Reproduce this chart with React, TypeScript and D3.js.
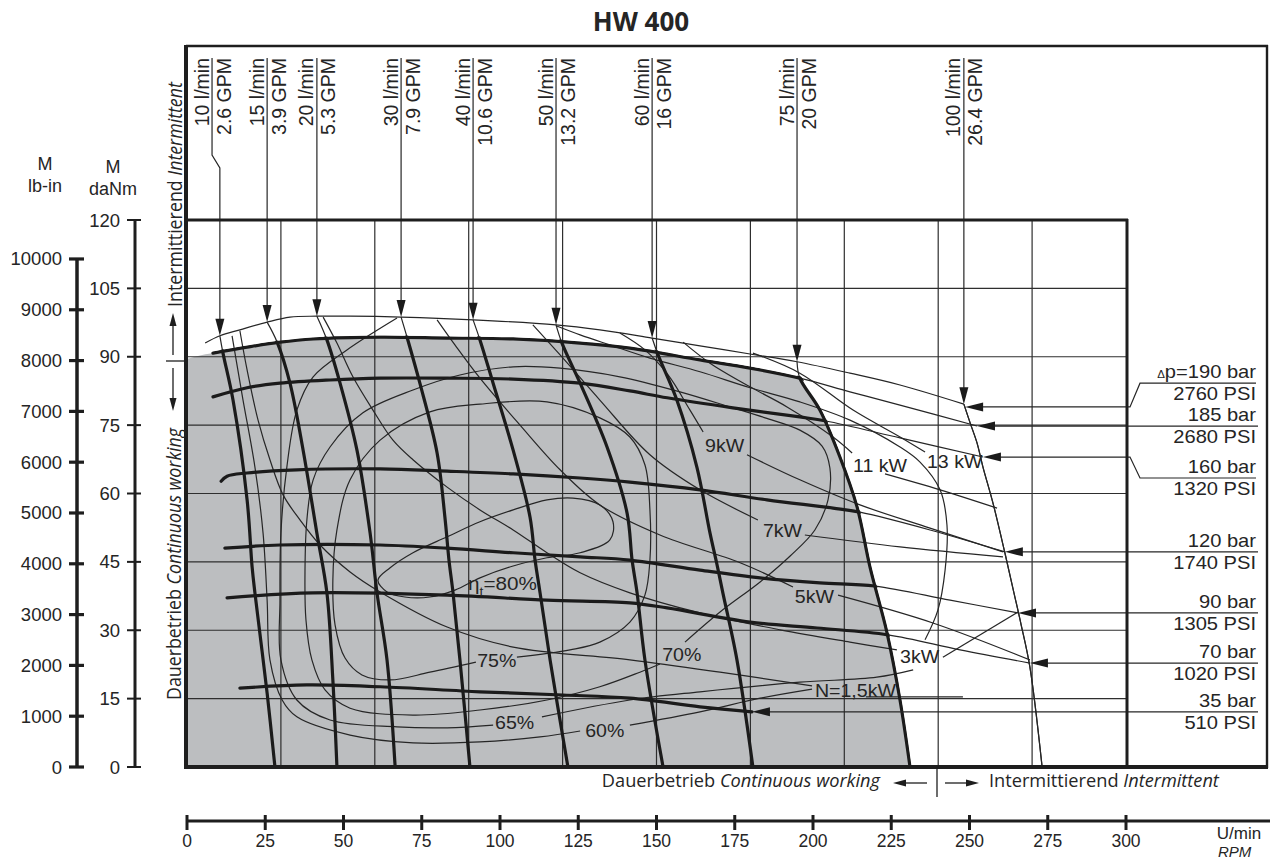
import React from "react";
import * as d3 from "d3";

type Pt = [number, number];

// ---------- axes ----------
const rpmTicks = [0, 25, 50, 75, 100, 125, 150, 175, 200, 225, 250, 275, 300];
const torqueTicks = [0, 15, 30, 45, 60, 75, 90, 105, 120];
const lbinTicks = [0, 1000, 2000, 3000, 4000, 5000, 6000, 7000, 8000, 9000, 10000];
const gridRpm = [30, 60, 90, 120, 150, 180, 210, 240, 270];
const gridTorque = [15, 30, 45, 60, 75, 90, 105];

// ---------- flow lines (rpm, daNm), from the upper arrow down to zero torque ----------
const flowLmin = ["10 l/min", "15 l/min", "20 l/min", "30 l/min", "40 l/min", "50 l/min", "60 l/min", "75 l/min", "100 l/min"];
const flowGpm = ["2.6 GPM", "3.9 GPM", "5.3 GPM", "7.9 GPM", "10.6 GPM", "13.2 GPM", "16 GPM", "20 GPM", "26.4 GPM"];
const flowLeaderRpm = [8.0, 25.6, 41.5, 68.4, 91.4, 117.9, 148.6, 194.9, 248.2];

const q10: Pt[] = [[10.5, 94.6], [11.5, 90.8], [14.7, 80.5], [19.2, 58.6], [20.8, 43.9], [21.7, 38.2], [25.6, 16.2], [28.1, 0]];
const q15: Pt[] = [[25.6, 97.6], [28.8, 93.2], [32.9, 84.2], [37.1, 69.5], [41.5, 51.3], [44.7, 38.2], [46.6, 19.1], [47.9, 0]];
const q20: Pt[] = [[41.5, 98.9], [44.7, 93.7], [48.9, 84.2], [54.3, 69.5], [58.5, 51.3], [60.7, 38.2], [63.9, 23.5], [66.5, 0]];
const q30: Pt[] = [[68.4, 98.7], [70.3, 94.3], [74.4, 84.2], [79.9, 68.9], [82.4, 54.8], [83.7, 45.4], [85.0, 38.2], [87.2, 23.5], [90.4, 0]];
const q40: Pt[] = [[91.4, 98.1], [93.6, 93.7], [97.8, 84.2], [104.2, 69.5], [109.6, 54.8], [111.2, 45.4], [112.8, 38.2], [116.0, 23.5], [121.7, 0]];
const q50: Pt[] = [[117.9, 97.0], [119.8, 93.0], [125.6, 84.2], [134.2, 70.2], [140.6, 55.7], [142.2, 45.4], [143.8, 38.2], [146.3, 23.5], [152.1, 0]];
const q60: Pt[] = [[148.6, 94.1], [150.5, 90.4], [156.5, 80.5], [162.9, 65.8], [167.1, 51.3], [169.2, 44.8], [171.2, 38.2], [175.7, 23.5], [180.8, 0]];
const q75: Pt[] = [[194.9, 88.9], [195.8, 85.3], [202.2, 78.3], [208.6, 68.0], [214.1, 57.0], [218.2, 43.9], [223.6, 29.6], [227.8, 14.7], [231.0, 0]];
const q100: Pt[] = [[248.2, 79.6], [250.2, 75.5], [252.4, 71.1], [254.3, 65.8], [257.5, 57.9], [261.3, 47.0], [264.2, 38.2], [266.5, 31.2], [269.3, 21.9], [273.2, 0]];

// upper limit (190 bar)
const env190: Pt[] = [[5.8, 93.0], [10.5, 94.6], [16.9, 95.9], [25.6, 97.6], [32.9, 98.7], [41.5, 98.9], [52.1, 98.9], [68.4, 98.7], [91.4, 98.1], [117.9, 97.0], [131.9, 95.9], [148.6, 94.1], [163.9, 92.4], [179.9, 90.6], [194.9, 88.9], [211.8, 86.4], [227.8, 83.8], [248.2, 79.6]];

// ---------- pressure lines ----------
const p185: Pt[] = [[8.3, 90.8], [19.2, 92.1], [29.7, 93.2], [40.3, 93.9], [61.7, 94.3], [83.1, 94.1], [104.2, 93.9], [125.6, 93.0], [141.5, 91.9], [163.9, 89.3], [179.9, 87.5], [195.8, 85.3], [211.8, 82.3], [227.8, 79.4], [252.4, 74.8]];
const p160: Pt[] = [[8.3, 81.2], [19.2, 83.2], [29.7, 84.2], [45.7, 84.9], [61.7, 85.3], [83.1, 85.3], [104.2, 85.1], [125.6, 84.2], [141.5, 82.5], [153.4, 81.0], [174.4, 78.8], [195.8, 76.8], [204.2, 75.9], [227.8, 72.2], [254.3, 68.0]];
const p120: Pt[] = [[10.9, 62.7], [12.8, 63.8], [19.2, 64.5], [35.1, 65.2], [61.7, 65.4], [83.1, 64.9], [104.2, 64.3], [125.6, 63.4], [141.5, 62.5], [163.9, 60.8], [185.3, 58.6], [206.4, 56.8], [215.0, 55.9], [237.4, 52.0], [261.3, 47.2]];
const p90: Pt[] = [[12.1, 48.0], [29.7, 48.7], [61.7, 48.7], [83.1, 48.0], [104.2, 47.0], [125.6, 46.1], [141.5, 45.4], [163.9, 43.2], [183.1, 41.5], [202.2, 40.4], [219.8, 39.7], [243.8, 36.6], [265.5, 33.8]];
const p70: Pt[] = [[12.8, 37.1], [40.3, 38.2], [83.1, 37.7], [115.0, 36.6], [141.5, 36.0], [153.4, 34.9], [179.9, 31.8], [201.3, 30.5], [224.0, 29.0], [247.0, 25.7], [269.3, 22.8]];
const p35: Pt[] = [[16.9, 17.3], [38.3, 18.0], [61.7, 17.6], [93.6, 16.5], [120.1, 15.8], [141.5, 15.1], [163.9, 13.2], [180.5, 12.1]];

const pressBar = ["190 bar", "185 bar", "160 bar", "120 bar", "90 bar", "70 bar", "35 bar"];
const pressPsi = ["2760 PSI", "2680 PSI", "1320 PSI", "1740 PSI", "1305 PSI", "1020 PSI", "510 PSI"];
const pressTips: Pt[] = [[248.6, 79.0], [252.4, 74.8], [254.3, 68.0], [261.3, 47.2], [265.5, 33.8], [269.3, 22.8], [180.5, 12.1]];
const pressRuleTorque = [84.2, 74.8, 63.4, 47.2, 33.8, 22.8, 12.1];

// ---------- power lines ----------
const kw15a: Pt[] = [[16.9, 95.7], [19.2, 87.1], [22.7, 76.1], [26.5, 67.4], [30.7, 59.7], [36.1, 54.2], [42.5, 48.7], [52.1, 42.8], [61.7, 38.4], [83.1, 30.7], [104.2, 26.3], [141.5, 23.5], [170.3, 20.8], [199.7, 17.8]];
const kw15b: Pt[] = [[216.9, 15.4], [247.9, 15.4]];
const kw3a: Pt[] = [[43.5, 98.7], [47.9, 93.0], [53.0, 85.6], [59.4, 78.3], [65.8, 71.7], [72.2, 67.4], [83.1, 61.4], [93.6, 56.4], [104.2, 52.0], [115.0, 47.0], [125.6, 42.6], [141.5, 38.2], [163.9, 33.8], [189.5, 30.1], [211.8, 27.4], [226.8, 25.7]];
const kw3b: Pt[] = [[241.5, 24.1], [265.5, 34.0]];
const kw5a: Pt[] = [[79.9, 98.1], [85.6, 92.6], [93.6, 85.3], [106.4, 75.0], [119.2, 65.2], [131.9, 57.5], [151.1, 50.9], [176.7, 44.8], [193.6, 39.5]];
const kw5b: Pt[] = [[208.0, 37.7], [238.3, 31.6], [269.3, 23.5]];
const kw7a: Pt[] = [[110.5, 97.0], [119.2, 90.4], [131.9, 80.5], [147.9, 68.5], [163.9, 60.8], [182.4, 54.2]];
const kw7b: Pt[] = [[197.4, 50.9], [227.8, 48.3], [260.7, 46.1]];
const kw9a: Pt[] = [[138.3, 95.2], [146.3, 91.5], [153.7, 86.0], [160.7, 78.3], [164.9, 73.5]];
const kw9b: Pt[] = [[178.9, 68.5], [195.8, 63.0], [215.0, 57.5], [237.4, 52.4], [260.7, 47.2]];
const kw11a: Pt[] = [[158.5, 93.2], [167.1, 88.6], [179.9, 83.4], [191.7, 79.0], [206.4, 72.4], [212.5, 68.9]];
const kw11b: Pt[] = [[223.0, 64.3], [240.6, 60.8], [258.8, 56.8]];
const kw13: Pt[] = [[180.8, 90.8], [195.8, 86.4], [212.8, 78.3], [227.8, 72.4], [235.8, 69.1]];

// ---------- efficiency contours ----------
const eff80: Pt[] = [[61.0, 41.0], [64.9, 43.7], [72.2, 47.0], [83.1, 50.5], [93.6, 53.8], [104.2, 56.4], [115.0, 58.6], [123.3, 59.0], [131.9, 57.5], [136.1, 53.8], [135.1, 49.8], [125.6, 47.0], [115.0, 45.9], [104.2, 44.1], [93.6, 41.5], [85.6, 38.8], [77.6, 37.3], [69.6, 37.3], [63.9, 38.4]];
const eff75: Pt[] = [[105.4, 24.1], [122.4, 25.7], [131.9, 27.4], [141.5, 31.8], [146.3, 37.7], [147.9, 45.4], [147.9, 56.4], [146.3, 66.3], [141.5, 72.4], [131.9, 76.6], [115.0, 80.1], [93.6, 79.6], [77.6, 77.9], [61.7, 71.7], [52.1, 63.0], [47.9, 52.0], [46.6, 41.0], [47.3, 31.2], [50.5, 23.9], [55.9, 20.2], [64.9, 19.1], [77.6, 20.8], [92.3, 23.0]];
const eff70: Pt[] = [[159.1, 27.4], [170.3, 34.0], [183.1, 40.6], [192.7, 46.3], [200.6, 52.0], [204.8, 58.6], [205.4, 65.6], [202.9, 70.4], [195.8, 73.9], [184.7, 76.6], [174.4, 78.8], [157.5, 82.3], [138.3, 85.6], [119.2, 87.5], [104.2, 87.8], [87.2, 86.0], [72.2, 82.7], [56.2, 77.7], [45.7, 70.2], [40.3, 63.0], [38.3, 54.2], [37.7, 43.2], [38.0, 32.3], [39.9, 23.5], [44.1, 16.9], [52.1, 12.9], [72.2, 11.4], [93.6, 12.5], [115.0, 14.7], [131.9, 17.6], [144.7, 20.8], [151.1, 22.6]];
const eff65a: Pt[] = [[113.4, 11.0], [141.5, 14.7], [163.9, 16.5], [195.8, 18.6], [220.4, 19.7], [232.0, 21.3]];
const eff65b: Pt[] = [[235.8, 27.9], [239.9, 34.4], [242.2, 43.2], [242.8, 53.1], [240.6, 60.8], [234.2, 66.9], [227.8, 70.2], [211.8, 76.1], [195.8, 80.1], [179.9, 83.2], [163.9, 86.7], [147.9, 89.7], [135.1, 92.6], [125.6, 94.8], [117.9, 96.8]];
const eff65c: Pt[] = [[67.1, 98.5], [51.1, 91.5], [40.3, 85.6], [35.1, 78.3], [31.9, 65.8], [30.0, 51.3], [29.7, 36.6], [30.0, 23.5], [35.1, 14.7], [45.7, 10.3], [67.1, 8.8], [83.1, 8.6], [97.8, 9.2]];
const eff60a: Pt[] = [[14.4, 94.6], [15.7, 89.3], [17.9, 80.5], [21.7, 65.8], [24.3, 51.3], [25.6, 36.6], [26.5, 23.5], [30.4, 14.7], [35.1, 11.0], [52.1, 7.0], [72.2, 5.3], [93.6, 5.5], [112.8, 6.6], [125.6, 7.9]];
const eff60b: Pt[] = [[141.5, 9.2], [163.9, 12.1], [183.1, 15.1], [199.7, 17.1]];

// labels written on the curves: text and its left baseline point (rpm, daNm)
const curveLabels: { text: string; at: Pt }[] = [
  { text: "9kW", at: [165.5, 69.1] },
  { text: "11 kW", at: [212.8, 64.7] },
  { text: "13 kW", at: [236.4, 65.6] },
  { text: "7kW", at: [184.0, 50.5] },
  { text: "5kW", at: [194.2, 36.0] },
  { text: "3kW", at: [227.8, 22.8] },
  { text: "N=1,5kW", at: [200.6, 15.4] },
  { text: "70%", at: [151.8, 23.3] },
  { text: "75%", at: [92.7, 21.9] },
  { text: "65%", at: [98.4, 8.3] },
  { text: "60%", at: [127.2, 6.6] },
];
const etaLabelAt: Pt = [89.8, 38.8];

const ARIAL = "'Liberation Sans', Arial, Helvetica, sans-serif";
const MYRIAD = "'Open Sans', 'Noto Sans', sans-serif";
const INK = "#252525";
const GRAY = "#bcbec0";

export default function App() {
  const W = 1284;
  const H = 861;
  const x = d3.scaleLinear().domain([0, 300]).range([187, 1126]);
  const y = d3.scaleLinear().domain([0, 120]).range([767, 220]);
  const yLb = d3.scaleLinear().domain([0, 10000]).range([y(0), y(111.45)]);

  const smooth = d3
    .line<Pt>()
    .x((d) => x(d[0]))
    .y((d) => y(d[1]))
    .curve(d3.curveCatmullRom.alpha(0.5));
  const closedSmooth = d3
    .line<Pt>()
    .x((d) => x(d[0]))
    .y((d) => y(d[1]))
    .curve(d3.curveCatmullRomClosed.alpha(0.5));
  const P = (pts: Pt[]) => smooth(pts) || "";

  // continuous-working area: under the 185 bar line and left of the 75 l/min line
  const grayTop: Pt[] = [[0, 89.5], [3.8, 90.2], ...p185.slice(0, 12)];
  const grayRight: Pt[] = q75.slice(1);
  const grayPath = P(grayTop) + P(grayRight).replace(/^M/, "L") + `L${x(0)},${y(0)}Z`;

  const flowCurves = [q10, q15, q20, q30, q40, q50, q60, q75, q100];
  const thickCurves = [q10, q15, q20, q30, q40, q50, q60, q75, p185, p160, p120, p90, p70, p35];
  const thinCurves = [
    env190, q100, ...flowCurves, p185, p160, p120, p90, p70, p35,
    kw15a, kw15b, kw3a, kw3b, kw5a, kw5b, kw7a, kw7b, kw9a, kw9b, kw11a, kw11b, kw13,
    eff75, eff70, eff65a, eff65b, eff65c, eff60a, eff60b,
  ];

  const txt = (
    key: string | number,
    tx: number,
    ty: number,
    content: React.ReactNode,
    opts: { sx?: number; rot?: number; anchor?: string; size?: number; family?: string; weight?: number | string; italic?: boolean } = {}
  ) => {
    const { sx = 1, rot = 0, anchor = "start", size = 17, family = ARIAL, weight = 400, italic = false } = opts;
    return (
      <text
        key={key}
        transform={`translate(${tx},${ty}) scale(${sx},1)${rot ? ` rotate(${rot})` : ""}`}
        textAnchor={anchor as any}
        fontSize={size}
        fontFamily={family}
        fontWeight={weight}
        fontStyle={italic ? "italic" : "normal"}
        fill={INK}
      >
        {content}
      </text>
    );
  };

  return (
    <svg width={W} height={H} viewBox={`0 0 ${W} ${H}`} style={{ position: "absolute", left: 0, top: 0, background: "#fff" }}>
      <defs>
        <mask id="contArea" maskUnits="userSpaceOnUse" x={0} y={0} width={W} height={H}>
          <path d={grayPath} fill="white" stroke="white" strokeWidth={4} />
        </mask>
      </defs>
      <rect x={0} y={0} width={W} height={H} fill="#fff" />

      {/* title */}
      {txt("title", 641, 31, "HW 400", { anchor: "middle", size: 26, family: MYRIAD, weight: 700 })}

      {/* continuous working area */}
      <path d={grayPath} fill={GRAY} stroke="none" />

      {/* grid */}
      <g stroke="#2e2e2e" strokeWidth={1.2}>
        {gridRpm.map((r) => (
          <line key={`gv${r}`} x1={x(r)} x2={x(r)} y1={y(0)} y2={y(120)} />
        ))}
        {gridTorque.map((t) => (
          <line key={`gh${t}`} x1={x(0) - 1} x2={x(300)} y1={y(t)} y2={y(t)} />
        ))}
      </g>

      {/* thin curves */}
      <g fill="none" stroke="#262626" strokeWidth={1.2} strokeLinejoin="round">
        {thinCurves.map((c, i) => (
          <path key={`thin${i}`} d={P(c)} />
        ))}
        <path d={closedSmooth(eff80) || ""} />
      </g>

      {/* thick curves inside the continuous working area */}
      <g fill="none" stroke="#1b1b1b" strokeWidth={3.2} strokeLinejoin="round" strokeLinecap="round" mask="url(#contArea)">
        {thickCurves.map((c, i) => (
          <path key={`thick${i}`} d={P(c)} />
        ))}
      </g>

      {/* flow leaders, arrows and labels */}
      <g>
        {flowCurves.map((c, i) => {
          const tip = c[0];
          const tx = x(tip[0]);
          const ty = y(tip[1]);
          const lx = x(flowLeaderRpm[i]);
          const d = Math.abs(lx - tx) > 1 ? `M${lx},58 V155 L${tx},168 V${ty - 14}` : `M${tx},58 V${ty - 14}`;
          return (
            <g key={`fl${i}`}>
              <path d={d} fill="none" stroke="#262626" strokeWidth={1.2} />
              <polygon points={`${tx},${ty} ${tx - 4.5},${ty - 17} ${tx + 4.5},${ty - 17}`} fill="#1b1b1b" />
              {txt(`fa${i}`, lx - 3.5, 58, flowLmin[i], { rot: -90, anchor: "end", size: 19.5, sx: 1.06 })}
              {txt(`fb${i}`, lx + 18.5, 58, flowGpm[i], { rot: -90, anchor: "end", size: 19.5, sx: 1.06 })}
            </g>
          );
        })}
      </g>

      {/* pressure arrows and labels on the right */}
      <g>
        {pressTips.map((tip, i) => {
          const tx = x(tip[0]);
          const ty = y(tip[1]);
          const ry = y(pressRuleTorque[i]);
          const straight = Math.abs(ry - ty) < 0.5;
          const d = straight ? `M${tx + 12},${ty} H1258` : `M${tx + 12},${ty} H1130 L1140,${ry} H1256`;
          return (
            <g key={`pa${i}`}>
              <path d={d} fill="none" stroke="#262626" strokeWidth={1.2} />
              <polygon points={`${tx},${ty} ${tx + 18},${ty - 4.5} ${tx + 18},${ty + 4.5}`} fill="#1b1b1b" />
              {txt(
                `pb${i}`,
                1256,
                ry - 5,
                i === 0 ? (
                  <>
                    <tspan fontSize={10}>Δ</tspan>
                    <tspan>p={pressBar[i]}</tspan>
                  </>
                ) : (
                  pressBar[i]
                ),
                { anchor: "end", size: 17.5, sx: 1.15 }
              )}
              {txt(`pp${i}`, 1256, ry + 17, pressPsi[i], { anchor: "end", size: 17.5, sx: 1.15 })}
            </g>
          );
        })}
      </g>

      {/* curve labels */}
      {curveLabels.map((l, i) => txt(`cl${i}`, x(l.at[0]), y(l.at[1]), l.text, { size: 17.5, sx: 1.12 }))}
      {txt(
        "eta",
        x(etaLabelAt[0]),
        y(etaLabelAt[1]),
        <>
          <tspan>η</tspan>
          <tspan fontSize={12} dy={6}>t</tspan>
          <tspan dy={-6}>=80%</tspan>
        </>,
        { size: 18, sx: 1.15 }
      )}

      {/* frames */}
      <g fill="none" stroke="#1e1e1e">
        <line x1={186} x2={1268} y1={46} y2={46} strokeWidth={2.6} />
        <line x1={1267} x2={1267} y1={45} y2={768} strokeWidth={2.4} />
        <line x1={186} x2={186} y1={45} y2={769} strokeWidth={4} />
        <line x1={184} x2={1268} y1={767} y2={767} strokeWidth={4} />
        <line x1={186} x2={1128} y1={220} y2={220} strokeWidth={3} />
        <line x1={1127} x2={1127} y1={219} y2={767} strokeWidth={3} />
      </g>

      {/* left torque axes */}
      <g stroke="#1e1e1e">
        <line x1={77} x2={77} y1={yLb(0) + 1} y2={yLb(10000) - 1} strokeWidth={3.5} />
        {lbinTicks.map((t) => (
          <line key={`lbt${t}`} x1={69} x2={84} y1={yLb(t)} y2={yLb(t)} strokeWidth={3.2} />
        ))}
        <line x1={135} x2={135} y1={y(0) + 1} y2={y(120) - 1} strokeWidth={3} />
        {torqueTicks.map((t) => (
          <line key={`dnt${t}`} x1={127} x2={141} y1={y(t)} y2={y(t)} strokeWidth={2} />
        ))}
      </g>
      {lbinTicks.map((t) => txt(`lbl${t}`, 62, yLb(t) + 6.5, String(t), { anchor: "end", size: 18.5 }))}
      {torqueTicks.map((t) => txt(`dnl${t}`, 120, y(t) + 6.5, String(t), { anchor: "end", size: 18.5 }))}
      {txt("m1", 45, 170, "M", { anchor: "middle", size: 18 })}
      {txt("m1u", 45, 192, "lb-in", { anchor: "middle", size: 18 })}
      {txt("m2", 113, 173, "M", { anchor: "middle", size: 18 })}
      {txt("m2u", 113, 195, "daNm", { anchor: "middle", size: 18 })}

      {/* bottom speed axis */}
      <g stroke="#1e1e1e">
        <line x1={186} x2={1270} y1={821} y2={821} strokeWidth={3} />
        {rpmTicks.map((r) => (
          <line key={`rt${r}`} x1={x(r)} x2={x(r)} y1={815} y2={830} strokeWidth={3} />
        ))}
      </g>
      {rpmTicks.map((r) => txt(`rl${r}`, x(r), 847, String(r), { anchor: "middle", size: 17.5 }))}
      {txt("umin", 1239, 839, "U/min", { anchor: "middle", size: 17 })}
      {txt("rpm", 1218, 857, "RPM", { size: 15, italic: true })}

      {/* continuous / intermittent markers along the bottom */}
      {txt(
        "cwb",
        880,
        787,
        <>
          <tspan>Dauerbetrieb </tspan>
          <tspan fontStyle="italic">Continuous working</tspan>
        </>,
        { anchor: "end", size: 17.5, family: MYRIAD, sx: 1.04 }
      )}
      {txt(
        "iwb",
        989,
        787,
        <>
          <tspan>Intermittierend </tspan>
          <tspan fontStyle="italic">Intermittent</tspan>
        </>,
        { size: 17.5, family: MYRIAD, sx: 1.04 }
      )}
      <g stroke="#1e1e1e" strokeWidth={1.3}>
        <line x1={937} x2={937} y1={767} y2={797} />
        <line x1={927} x2={905} y1={783} y2={783} />
        <line x1={945} x2={966} y1={783} y2={783} />
      </g>
      <polygon points="893,783 906,779.5 906,786.5" fill="#1e1e1e" />
      <polygon points="979,783 966,779.5 966,786.5" fill="#1e1e1e" />

      {/* continuous / intermittent markers along the left edge */}
      {txt(
        "iwl",
        182,
        307,
        <>
          <tspan>Intermittierend </tspan>
          <tspan fontStyle="italic">Intermittent</tspan>
        </>,
        { rot: -90, size: 17.8, family: MYRIAD, sx: 1.1 }
      )}
      {txt(
        "cwl",
        181,
        700,
        <>
          <tspan>Dauerbetrieb </tspan>
          <tspan fontStyle="italic">Continuous working</tspan>
        </>,
        { rot: -90, size: 17.8, family: MYRIAD, sx: 1.1 }
      )}
      <g stroke="#1e1e1e" strokeWidth={1.3}>
        <line x1={166} x2={186} y1={361} y2={361} />
        <line x1={173} x2={173} y1={355} y2={326} />
        <line x1={173} x2={173} y1={368} y2={398} />
      </g>
      <polygon points="173,313 169.5,326 176.5,326" fill="#1e1e1e" />
      <polygon points="173,411 169.5,398 176.5,398" fill="#1e1e1e" />
    </svg>
  );
}
